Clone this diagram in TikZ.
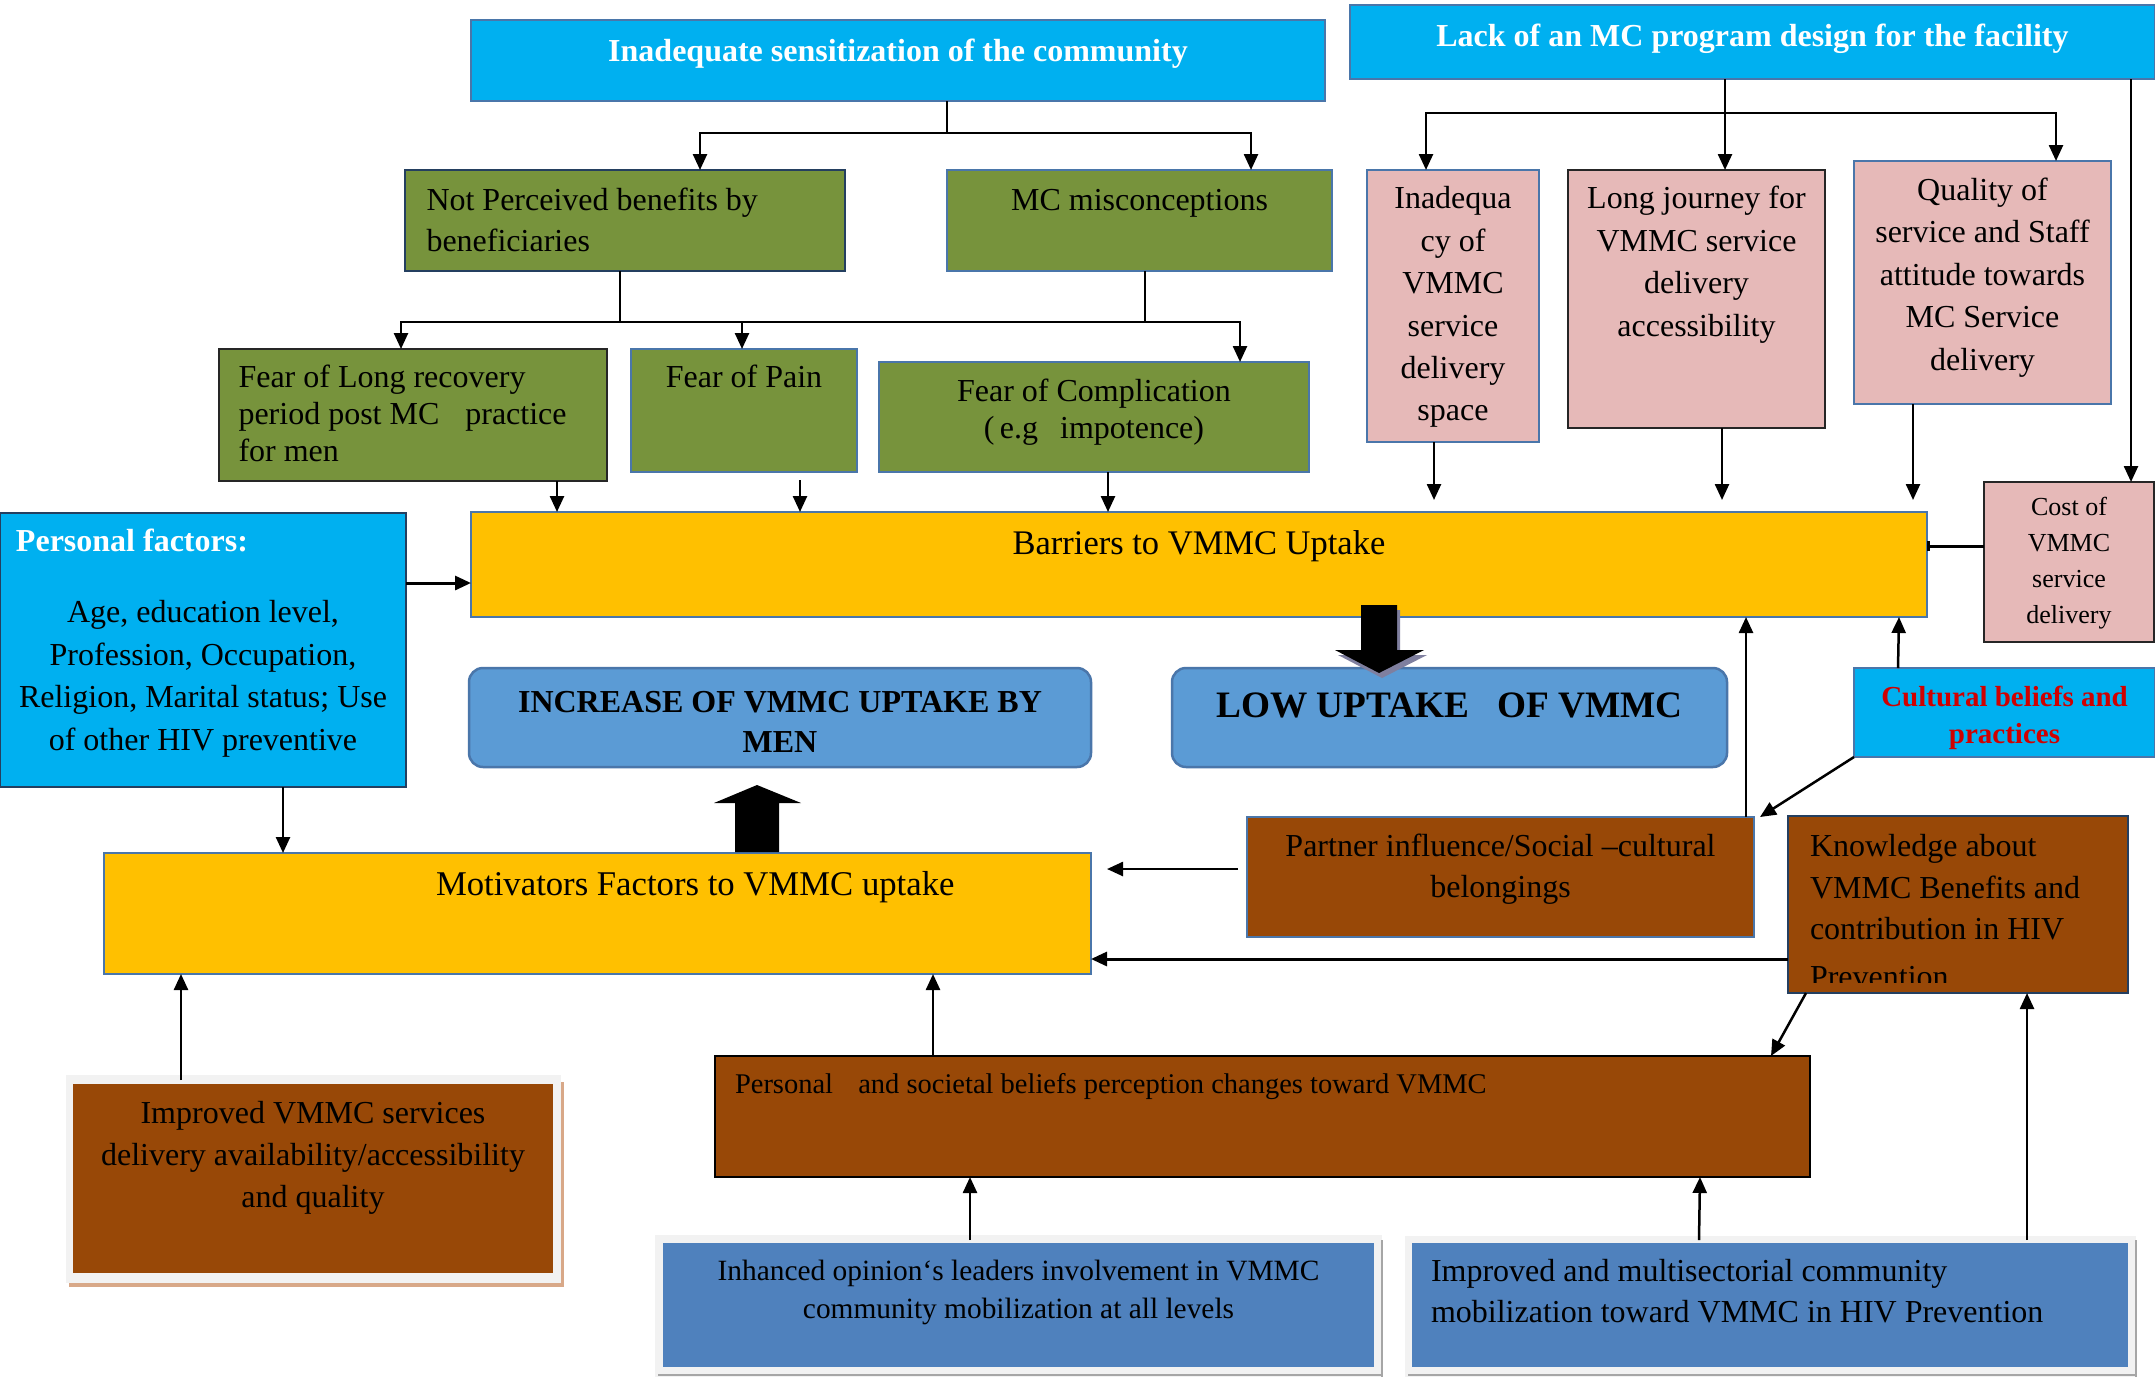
\documentclass[tikz,border=0pt]{standalone}
\usepackage{fontspec}
\setmainfont{Liberation Serif}
\usetikzlibrary{arrows.meta,calc}
\definecolor{ccyan}{HTML}{00B0F0}
\definecolor{cgreen}{HTML}{77933C}
\definecolor{cpink}{HTML}{E6B9B8}
\definecolor{cyel}{HTML}{FFC000}
\definecolor{crb}{HTML}{5B9BD5}
\definecolor{cbrown}{HTML}{984807}
\definecolor{cbb}{HTML}{4F81BD}
\definecolor{cbord}{HTML}{4A76AA}
\definecolor{cnavy}{HTML}{243F60}
\definecolor{cred}{HTML}{D00000}
\definecolor{cframe}{HTML}{F2F2F2}
\definecolor{ctan}{HTML}{D8A888}
\definecolor{cshad}{HTML}{7F7F9F}
\newcommand\fs[2]{\fontsize{#1pt}{#2pt}\selectfont}
\newcommand\tb[4]{\parbox[c][#2pt][t]{#1pt}{\vspace*{#3pt}#4}}
\newcommand\perstext{\tb{406}{274}{9}{\fs{32}{42.5}\raggedright\leftskip=16pt\strut{\bfseries\color{white}Personal factors:}\par
       \vspace{28.5pt}\centering Age, education level,\\Profession, Occupation,\\Religion, Marital status; Use\\of other HIV preventive\\[4pt]measures}}
\newcommand\knowtext{\tb{340}{177}{12}{\fs{32}{41.3}\raggedright\leftskip=22pt\strut Knowledge about\\VMMC Benefits and\\contribution in HIV\\[7pt]Prevention}}
\tikzset{
  bx/.style={draw, line width=2.5pt, inner sep=0pt, outer sep=0pt, anchor=north west},
  ln/.style={line width=2.5pt},
  arr/.style={line width=2.5pt, -{Triangle[length=16pt,width=14pt]}},
  cbar/.style={line width=3pt, -{Bar[width=10pt,line width=2.5pt]}},
}
\begin{document}
\begin{tikzpicture}[x=1pt,y=-1pt]
\useasboundingbox (0,0) rectangle (2155,1377);
\fill[white] (0,0) rectangle (2155,1377);

% ---------- decorative frames of bottom boxes ----------
\fill[ctan] (69,1082) rectangle (564,1287);
\fill[cframe] (66,1075) rectangle (561,1283);
\fill[cframe] (655,1235) rectangle (1382,1377);
\draw[black!35, line width=1.5pt] (1382,1240) -- (1382,1377) (658,1375) -- (1382,1375);
\fill[cframe] (1405,1236) rectangle (2136,1377);
\draw[black!35, line width=1.5pt] (2136,1240) -- (2136,1377) (1408,1375) -- (2136,1375);

% ---------- boxes ----------
\node[bx, fill=ccyan, draw=cbord] (sens) at (471,20)
 {\tb{854}{81}{13}{\fs{32}{41}\centering\bfseries\color{white}\strut Inadequate sensitization of the community}};
\node[bx, fill=ccyan, draw=cbord] (lack) at (1350,5)
 {\tb{805}{74}{13}{\fs{32}{41}\centering\bfseries\color{white}\strut Lack of an MC program design for the facility}};

\node[bx, fill=cgreen, draw=cnavy] (notp) at (405,170)
 {\tb{440}{101}{12}{\fs{32}{41}\raggedright\leftskip=21.5pt\strut Not Perceived benefits by\\beneficiaries}};
\node[bx, fill=cgreen, draw=cbord] (misc) at (947,170)
 {\tb{385}{101}{12}{\fs{32}{41}\centering\strut MC misconceptions}};

\node[bx, fill=cgreen, draw=black!85] (fearlong) at (219,349)
 {\tb{388}{132}{13}{\fs{32}{37}\raggedright\leftskip=19.5pt\strut Fear of Long recovery\\period post MC\hspace{18pt} practice\\for men}};
\node[bx, fill=cgreen, draw=cbord] (pain) at (631,349)
 {\tb{226}{123}{13}{\fs{32}{37}\centering\strut Fear of Pain}};
\node[bx, fill=cgreen, draw=cbord] (comp) at (879,362)
 {\tb{430}{110}{14}{\fs{32}{37}\centering\strut Fear of Complication\\(\,e.g\hspace{22pt}impotence)}};

\node[bx, fill=cpink, draw=cbord] (inad) at (1367,170)
 {\tb{172}{272}{9.3}{\fs{32}{42.4}\centering\strut Inadequa\\cy of\\VMMC\\service\\delivery\\space}};
\node[bx, fill=cpink, draw=black!85] (long) at (1568,170)
 {\tb{257}{258}{9}{\fs{32}{42.5}\centering\strut Long journey for\\VMMC service\\delivery\\accessibility}};
\node[bx, fill=cpink, draw=cbord] (qual) at (1854,161)
 {\tb{257}{243}{9.3}{\fs{32}{42.5}\centering\strut Quality of\\service and Staff\\attitude towards\\MC Service\\delivery}};
\node[bx, fill=cpink, draw=black!85] (cost) at (1984,482)
 {\tb{170}{160}{7.8}{\fs{26}{36}\centering\strut Cost of\\VMMC\\service\\delivery}};

\node[bx, fill=cyel, draw=cbord] (bar) at (471,512)
 {\tb{1456}{105}{12}{\fs{34.5}{44}\centering\strut Barriers to VMMC Uptake}};

\node[bx, fill=ccyan, draw=cnavy, minimum width=406pt, minimum height=274pt,
  path picture={
    \clip ($(path picture bounding box.south west)+(0,-10)$) rectangle (path picture bounding box.north east);
    \node[anchor=north west, inner sep=0pt] at (path picture bounding box.north west) {\perstext};
  }] (pers) at (0,513) {};

\node[bx, fill=crb, draw=cbord, rounded corners=14pt] (incr) at (469,668)
 {\tb{622}{99}{16}{\fs{32}{40}\centering\bfseries\strut INCREASE OF VMMC UPTAKE BY\\MEN}};
\node[bx, fill=crb, draw=cbord, rounded corners=14pt] (low) at (1172,668)
 {\tb{555}{99}{17.5}{\fs{37.3}{45}\centering\bfseries\strut LOW UPTAKE\ \ \ OF VMMC}};
\node[bx, fill=ccyan, draw=cbord] (cult) at (1854,668)
 {\tb{301}{89}{13}{\fs{29}{37}\centering\bfseries\color{cred}\strut Cultural beliefs and\\practices}};

\node[bx, fill=cyel, draw=cbord] (mot) at (104,853)
 {\tb{987}{121}{12}{\fs{34.7}{44}\raggedright\leftskip=332pt\strut Motivators Factors to VMMC uptake}};

\node[bx, fill=cbrown, draw=cbord] (part) at (1247,817)
 {\tb{507}{120}{11}{\fs{32}{41}\centering\strut Partner influence/Social –cultural\\belongings}};

\node[bx, fill=cbrown, draw=cnavy, minimum width=340pt, minimum height=177pt,
  path picture={
    \clip ($(path picture bounding box.south west)+(0,-11)$) rectangle (path picture bounding box.north east);
    \node[anchor=north west, inner sep=0pt] at (path picture bounding box.north west) {\knowtext};
  }] (know) at (1788,816) {};

\node[bx, fill=cbrown, draw=black] (soc) at (715,1056)
 {\tb{1095}{121}{9}{\fs{28.5}{40}\raggedright\leftskip=20pt\strut Personal\hspace{18pt} and societal beliefs perception changes toward VMMC}};

\node[bx, fill=cbrown, draw=none] (imp) at (73,1084)
 {\tb{480}{189}{9.6}{\fs{32}{42}\centering\strut Improved VMMC services\\delivery availability/accessibility\\and quality}};
\node[bx, fill=cbb, draw=none] (inh) at (663,1243)
 {\tb{711}{124}{10.4}{\fs{29.4}{38}\centering\strut Inhanced opinion‘s leaders involvement in VMMC\\community mobilization at all levels}};
\node[bx, fill=cbb, draw=none] (multi) at (1412,1243)
 {\tb{716}{124}{10}{\fs{32}{41}\raggedright\leftskip=19pt\strut Improved and multisectorial community\\mobilization toward VMMC in HIV Prevention}};

% ---------- connectors: top trees ----------
\coordinate (j1) at ($(sens.south west)+(476,32)$);
\draw[ln] (sens.south -| j1) -- (j1);
\draw[arr] (j1) -| ($(notp.north west)+(295,0)$);
\draw[arr] (j1) -| ($(misc.north west)+(304,0)$);

\coordinate (j2) at ($(notp.south west)+(215,51)$);
\draw[ln] (notp.south -| j2) -- (j2);
\draw[ln] ($(misc.south west)+(198,0)$) -- ++(0,51);
\draw[arr] (j2) -| ($(fearlong.north west)+(182,0)$);
\draw[arr] (j2) -| ($(pain.north west)+(111,0)$);
\draw[arr] (j2) -| ($(comp.north west)+(361,0)$);

\coordinate (j3) at ($(lack.south west)+(375,34)$);
\draw[arr] ($(lack.south west)+(375,0)$) -- ($(long.north west)+(157,0)$);
\draw[arr] (j3) -| ($(inad.north west)+(59,0)$);
\draw[arr] (j3) -| ($(qual.north west)+(202,0)$);
\draw[arr] ($(lack.south west)+(781,0)$) -- ($(cost.north west)+(147,0)$);

% ---------- into barriers ----------
\draw[arr] ($(fearlong.south west)+(338,0)$) -- ++(0,31);
\draw[arr] ($(pain.south west)+(169,8)$) -- ++(0,32);
\draw[arr] ($(comp.south west)+(229,0)$) -- ++(0,40);
\draw[arr] ($(inad.south west)+(67,0)$) -- ++(0,58);
\draw[arr] ($(long.south west)+(154,0)$) -- ++(0,72);
\draw[arr] ($(qual.south west)+(59,0)$) -- ++(0,96);
\draw[cbar] ($(cost.north west)+(0,64)$) -- ($(bar.north east)+(0,34)$);
\draw[arr, line width=3pt] ($(pers.north east)+(0,70)$) -- ($(bar.north west)+(0,71)$);
\draw[arr] ($(cult.north west)+(44,0)$) -- ($(bar.south east)+(-28,0)$);
\draw[arr] ($(part.north west)+(499,0)$) -- ($(bar.south west)+(1275,0)$);
\draw[arr] (cult.south west) -- ($(part.north east)+(6,0)$);

% ---------- into motivators ----------
\draw[arr] ($(pers.south west)+(283,0)$) -- ($(mot.north west)+(179,0)$);
\draw[arr] ($(part.north west)+(-9,52)$) -- ($(mot.north east)+(16,16)$);
\draw[arr, line width=3pt] ($(know.north west)+(0,143)$) -- ($(mot.north east)+(0,106)$);
\draw[arr] ($(know.south west)+(18,0)$) -- ($(soc.north east)+(-39,0)$);
\draw[arr] ($(soc.north west)+(218,0)$) -- ($(mot.south west)+(829,0)$);
\draw[arr] ($(imp.north west)+(108,-4)$) -- ($(mot.south west)+(77,0)$);
\draw[arr] ($(inh.north west)+(307,-3)$) -- ($(soc.south west)+(255,0)$);
\draw[arr] ($(multi.north west)+(287,-3)$) -- ($(soc.south west)+(985,0)$);
\draw[arr] ($(multi.north west)+(615,-3)$) -- ($(know.south west)+(239,0)$);

% ---------- block arrows ----------
\fill[cshad] (1364,610) -- (1400,610) -- (1400,655) -- (1427,655) -- (1382,678) -- (1338,655) -- (1364,655) -- cycle;
\fill[black] (1361,605) -- (1397,605) -- (1397,650) -- (1424,650) -- (1379,673) -- (1335,650) -- (1361,650) -- cycle;
\fill[black] (735,852) -- (779,852) -- (779,803) -- (801,803) -- (757,785) -- (714,803) -- (735,803) -- cycle;
\end{tikzpicture}
\end{document}
